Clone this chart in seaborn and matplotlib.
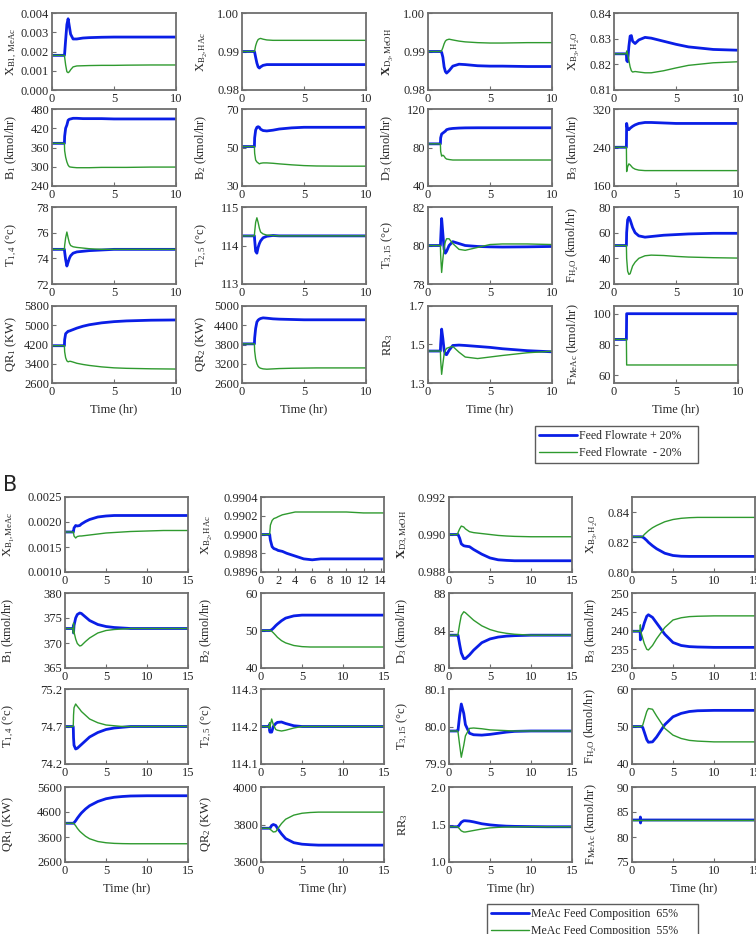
import matplotlib
matplotlib.use('Agg')
import matplotlib.pyplot as plt
import seaborn as sns
from matplotlib.lines import Line2D
from matplotlib.ticker import FormatStrFormatter, FixedLocator

# style
sns.set_theme(style='ticks')
plt.rcParams['font.family'] = ['Liberation Serif', 'DejaVu Serif']
plt.rcParams['mathtext.fontset'] = 'custom'
plt.rcParams['mathtext.rm'] = 'Liberation Serif'
plt.rcParams['mathtext.it'] = 'Liberation Serif:italic'
plt.rcParams['mathtext.bf'] = 'Liberation Serif:bold'

BLUE = '#0a1ee6'
GREEN = '#2f9a2f'
FRAME = '#6e6e6e'

# ---------------- panel A data (feed flowrate +/- 20%) ----------------
tA = [0, 1.0, 1.02, 1.1, 1.2, 1.3, 1.4, 1.5, 1.7, 2.0, 2.5, 3.0, 4.0, 5.0, 6.0, 8.0, 10.0]

a_xb1_up = [0.0018, 0.0018, 0.0019, 0.0026, 0.0034, 0.0037, 0.0033, 0.0029, 0.00265, 0.00265, 0.0027, 0.00272, 0.00274, 0.00275, 0.00275, 0.00275, 0.00275]
a_xb1_dn = [0.0018, 0.0018, 0.0017, 0.0013, 0.00095, 0.0009, 0.00095, 0.00105, 0.0012, 0.00125, 0.00126, 0.00127, 0.00128, 0.00128, 0.00129, 0.0013, 0.0013]
a_xb2_up = [0.990, 0.990, 0.9898, 0.9885, 0.9870, 0.9860, 0.9857, 0.9860, 0.9864, 0.9866, 0.9866, 0.9866, 0.9866, 0.9866, 0.9866, 0.9866, 0.9866]
a_xb2_dn = [0.990, 0.990, 0.9902, 0.9915, 0.9925, 0.9931, 0.9933, 0.9934, 0.9932, 0.9930, 0.9929, 0.9929, 0.9929, 0.9929, 0.9929, 0.9929, 0.9929]
a_xd3_up = [0.990, 0.990, 0.990, 0.9898, 0.9885, 0.9860, 0.9848, 0.9844, 0.9850, 0.9862, 0.9867, 0.9866, 0.9863, 0.9862, 0.9862, 0.9861, 0.9861]
a_xd3_dn = [0.990, 0.990, 0.990, 0.9902, 0.9910, 0.9920, 0.9927, 0.9930, 0.9932, 0.9930, 0.9927, 0.9925, 0.9923, 0.9922, 0.9922, 0.9923, 0.9923]
a_xb3_up = [0.8241, 0.8241, 0.8215, 0.8210, 0.8270, 0.8310, 0.8312, 0.8290, 0.8281, 0.8295, 0.8305, 0.8302, 0.8290, 0.8278, 0.8268, 0.8258, 0.8255]
a_xb3_dn = [0.8241, 0.8241, 0.8252, 0.8240, 0.8215, 0.8190, 0.8175, 0.8170, 0.8172, 0.8170, 0.8167, 0.8167, 0.8175, 0.8186, 0.8196, 0.8206, 0.8210]

a_b1_up = [373, 373, 395, 420, 430, 445, 448, 449, 451, 451, 450, 450, 450, 449, 449, 449, 449]
a_b1_dn = [373, 373, 350, 330, 315, 305, 300, 299, 298, 297, 297, 297, 298, 298, 298, 299, 299]
a_b2_up = [50.5, 50.5, 55, 59, 60.5, 60.8, 60.5, 59.5, 58.8, 58.6, 59.0, 59.6, 60.2, 60.5, 60.5, 60.5, 60.5]
a_b2_dn = [50.5, 50.5, 47, 43.5, 42.5, 42, 41.5, 41.8, 42, 42, 41.8, 41.5, 41, 40.6, 40.4, 40.3, 40.3]
a_d3_up = [83.8, 83.8, 90, 94, 95, 96, 97, 98.5, 99.3, 99.8, 100.2, 100.4, 100.5, 100.5, 100.5, 100.5, 100.5]
a_d3_dn = [83.8, 83.8, 76, 71, 72, 71, 69, 68, 67.5, 67, 67, 67, 67, 67, 67, 67, 67]
a_b3_up = [240.5, 240.5, 290, 278, 277, 280, 282, 284, 287, 290, 292, 292, 291, 290, 290, 290, 290]
a_b3_dn = [240.5, 240.5, 190, 200, 206, 204, 201, 198, 195, 193, 192, 192, 192, 192, 192, 192, 192]

a_t14_up = [74.7, 74.7, 74.5, 73.9, 73.4, 73.7, 74.0, 74.2, 74.4, 74.5, 74.55, 74.6, 74.65, 74.7, 74.7, 74.7, 74.7]
a_t14_dn = [74.7, 74.7, 75.0, 75.6, 76.05, 75.6, 75.2, 75.0, 74.9, 74.85, 74.8, 74.75, 74.7, 74.7, 74.7, 74.7, 74.7]
a_t25_up = [114.25, 114.25, 114.15, 113.85, 113.8, 113.95, 114.05, 114.12, 114.2, 114.24, 114.26, 114.25, 114.25, 114.25, 114.25, 114.25, 114.25]
a_t25_dn = [114.25, 114.25, 114.35, 114.6, 114.72, 114.6, 114.45, 114.35, 114.3, 114.27, 114.26, 114.25, 114.25, 114.25, 114.25, 114.25, 114.25]
a_t315_up = [80.0, 80.0, 80.3, 81.4, 80.6, 79.8, 79.6, 79.7, 80.0, 80.2, 80.1, 80.0, 79.95, 79.93, 79.92, 79.93, 79.95]
a_t315_dn = [80.0, 80.0, 79.5, 78.6, 79.3, 79.9, 80.2, 80.35, 80.35, 80.1, 79.8, 79.75, 79.9, 80.05, 80.08, 80.08, 80.05]
a_fh2o_up = [50, 50, 60, 70, 72, 70, 67, 64, 60, 57.5, 56.5, 57, 58, 58.5, 59, 59.5, 59.5]
a_fh2o_dn = [50, 50, 40, 30, 27.5, 28, 31, 34, 37, 40, 42, 42.5, 42.2, 41.5, 41, 40.5, 40.2]

a_qr1_up = [4150, 4150, 4400, 4650, 4700, 4750, 4760, 4780, 4820, 4880, 4960, 5020, 5100, 5150, 5180, 5210, 5220]
a_qr1_dn = [4150, 4150, 3900, 3650, 3520, 3480, 3500, 3500, 3470, 3420, 3370, 3330, 3270, 3230, 3210, 3190, 3180]
a_qr2_up = [3820, 3820, 4000, 4300, 4500, 4560, 4590, 4610, 4630, 4620, 4600, 4590, 4580, 4570, 4570, 4570, 4570]
a_qr2_dn = [3820, 3820, 3600, 3350, 3200, 3120, 3080, 3060, 3040, 3030, 3040, 3050, 3060, 3065, 3070, 3070, 3070]
a_rr3_up = [1.466, 1.466, 1.50, 1.58, 1.53, 1.47, 1.45, 1.447, 1.47, 1.495, 1.497, 1.495, 1.49, 1.485, 1.478, 1.468, 1.462]
a_rr3_dn = [1.466, 1.466, 1.42, 1.345, 1.40, 1.45, 1.47, 1.48, 1.485, 1.49, 1.46, 1.435, 1.427, 1.435, 1.443, 1.457, 1.465]
a_fmeac_up = [83.3, 83.3, 100, 100, 100, 100, 100, 100, 100, 100, 100, 100, 100, 100, 100, 100, 100]
a_fmeac_dn = [83.3, 83.3, 66.7, 66.7, 66.7, 66.7, 66.7, 66.7, 66.7, 66.7, 66.7, 66.7, 66.7, 66.7, 66.7, 66.7, 66.7]

# ---------------- panel B data (MeAc feed composition 65% / 55%) ----------------
tB = [0, 1.0, 1.02, 1.04, 1.1, 1.3, 1.5, 1.8, 2.0, 2.5, 3.0, 4.0, 5.0, 6.0, 7.0, 8.0, 10.0, 12.0, 15.0]

b_xb1_up = [0.0018, 0.0018, 0.0018, 0.00182, 0.00188, 0.00193, 0.00192, 0.00193, 0.00196, 0.00201, 0.00205, 0.0021, 0.00212, 0.00213, 0.00213, 0.00213, 0.00213, 0.00213, 0.00213]
b_xb1_dn = [0.0018, 0.0018, 0.0018, 0.00178, 0.00172, 0.00168, 0.00171, 0.00172, 0.00172, 0.00173, 0.00174, 0.00176, 0.00178, 0.00179, 0.0018, 0.00181, 0.00182, 0.00183, 0.00183]
b_xb2_up = [0.99, 0.99, 0.99, 0.98998, 0.98994, 0.98987, 0.98985, 0.98984, 0.98983, 0.98982, 0.9898, 0.98977, 0.98974, 0.98973, 0.98974, 0.98974, 0.98974, 0.98974, 0.98974]
b_xb2_dn = [0.99, 0.99, 0.99001, 0.99003, 0.9901, 0.99015, 0.99017, 0.99018, 0.99019, 0.99021, 0.99022, 0.99024, 0.99024, 0.99024, 0.99024, 0.99024, 0.99024, 0.99023, 0.99023]
b_xd3_up = [0.99, 0.99, 0.99, 0.99, 0.99, 0.9898, 0.9895, 0.9894, 0.98938, 0.98935, 0.9892, 0.98895, 0.98875, 0.98865, 0.98862, 0.9886, 0.9886, 0.9886, 0.9886]
b_xd3_dn = [0.99, 0.99, 0.99, 0.99, 0.9901, 0.9903, 0.99045, 0.9904, 0.9903, 0.99015, 0.9901, 0.99005, 0.99, 0.98995, 0.98992, 0.9899, 0.98988, 0.98988, 0.98988]
b_xb3_up = [0.8235, 0.8235, 0.8235, 0.8235, 0.8235, 0.8233, 0.8225, 0.821, 0.8198, 0.8175, 0.8155, 0.8125, 0.811, 0.8105, 0.8104, 0.8104, 0.8104, 0.8104, 0.8104]
b_xb3_dn = [0.8235, 0.8235, 0.8235, 0.8235, 0.8235, 0.8237, 0.825, 0.8265, 0.8275, 0.8295, 0.831, 0.8335, 0.835, 0.8358, 0.8362, 0.8364, 0.8364, 0.8364, 0.8364]

b_b1_up = [372.9, 372.9, 373.5, 372.0, 373.5, 375.0, 375.7, 376.0, 375.9, 375.2, 374.5, 373.7, 373.3, 373.1, 373.0, 372.9, 372.9, 372.9, 372.9]
b_b1_dn = [372.9, 372.9, 372.0, 374.0, 372.2, 370.8, 369.9, 369.4, 369.5, 370.3, 371.0, 372.0, 372.5, 372.7, 372.8, 372.9, 372.9, 372.9, 372.9]
b_b2_up = [50, 50, 50, 50, 50, 50.2, 50.6, 51.3, 51.7, 52.6, 53.3, 53.9, 54.1, 54.1, 54.1, 54.1, 54.1, 54.1, 54.1]
b_b2_dn = [50, 50, 50, 50, 50, 49.8, 49.4, 48.7, 48.2, 47.3, 46.7, 46.0, 45.7, 45.6, 45.6, 45.6, 45.6, 45.6, 45.6]
b_d3_up = [83.5, 83.5, 83.5, 83.5, 83.5, 82.5, 81.6, 81.0, 81.0, 81.4, 81.9, 82.7, 83.1, 83.3, 83.4, 83.45, 83.5, 83.5, 83.5]
b_d3_dn = [83.5, 83.5, 83.5, 83.5, 83.6, 84.7, 85.6, 86.0, 85.9, 85.5, 85.1, 84.5, 84.1, 83.85, 83.7, 83.6, 83.5, 83.5, 83.5]
b_b3_up = [239.8, 239.8, 237.5, 239.8, 239.8, 240.5, 242.0, 243.8, 244.2, 243.5, 242.0, 239.0, 236.8, 236.0, 235.7, 235.6, 235.5, 235.5, 235.5]
b_b3_dn = [239.8, 239.8, 241.5, 239.8, 239.5, 238.0, 236.5, 235.0, 234.8, 236.0, 237.8, 240.8, 242.8, 243.4, 243.7, 243.8, 243.9, 243.9, 243.9]

b_t14_up = [74.7, 74.7, 74.65, 74.55, 74.45, 74.4, 74.41, 74.44, 74.46, 74.51, 74.56, 74.62, 74.66, 74.68, 74.69, 74.7, 74.7, 74.7, 74.7]
b_t14_dn = [74.7, 74.7, 74.75, 74.85, 74.95, 75.0, 74.97, 74.93, 74.9, 74.85, 74.8, 74.75, 74.72, 74.71, 74.7, 74.7, 74.7, 74.7, 74.7]
b_t25_up = [114.2, 114.2, 114.205, 114.19, 114.185, 114.185, 114.2, 114.208, 114.211, 114.212, 114.208, 114.202, 114.2, 114.2, 114.2, 114.2, 114.2, 114.2, 114.2]
b_t25_dn = [114.2, 114.2, 114.195, 114.21, 114.2, 114.22, 114.205, 114.192, 114.19, 114.188, 114.19, 114.196, 114.2, 114.2, 114.2, 114.2, 114.2, 114.2, 114.2]
b_t315_up = [79.988, 79.988, 79.988, 79.988, 79.99, 80.03, 80.06, 80.035, 80.005, 79.982, 79.978, 79.977, 79.979, 79.982, 79.985, 79.987, 79.988, 79.988, 79.988]
b_t315_dn = [79.988, 79.988, 79.988, 79.988, 79.985, 79.95, 79.918, 79.95, 79.975, 79.995, 79.996, 79.994, 79.991, 79.99, 79.989, 79.988, 79.988, 79.988, 79.988]
b_fh2o_up = [50, 50, 50, 50, 50, 49.8, 48.5, 46.5, 45.8, 45.9, 47.2, 50.5, 52.6, 53.5, 54.0, 54.2, 54.3, 54.3, 54.3]
b_fh2o_dn = [50, 50, 50, 50, 50, 50.3, 51.8, 54.0, 54.8, 54.6, 52.8, 49.5, 47.7, 46.8, 46.3, 46.1, 45.9, 45.9, 45.9]

b_qr1_up = [4150, 4150, 4150, 4150, 4170, 4250, 4350, 4480, 4560, 4720, 4850, 5020, 5130, 5190, 5220, 5240, 5250, 5250, 5250]
b_qr1_dn = [4150, 4150, 4150, 4150, 4130, 4050, 3950, 3830, 3770, 3630, 3530, 3420, 3370, 3345, 3335, 3330, 3330, 3330, 3330]
b_qr2_up = [3780, 3780, 3780, 3780, 3780, 3795, 3800, 3795, 3780, 3750, 3725, 3703, 3695, 3692, 3690, 3690, 3690, 3690, 3690]
b_qr2_dn = [3780, 3780, 3780, 3780, 3775, 3768, 3760, 3762, 3775, 3805, 3828, 3850, 3860, 3864, 3866, 3866, 3866, 3866, 3866]
b_rr3_up = [1.47, 1.47, 1.47, 1.47, 1.47, 1.50, 1.53, 1.55, 1.55, 1.545, 1.535, 1.51, 1.495, 1.485, 1.478, 1.475, 1.472, 1.47, 1.47]
b_rr3_dn = [1.47, 1.47, 1.47, 1.47, 1.465, 1.44, 1.415, 1.40, 1.40, 1.41, 1.42, 1.44, 1.455, 1.462, 1.466, 1.468, 1.47, 1.47, 1.47]
b_fmeac_up = [83.4, 83.4, 84.0, 82.8, 83.4, 83.4, 83.4, 83.4, 83.4, 83.4, 83.4, 83.4, 83.4, 83.4, 83.4, 83.4, 83.4, 83.4, 83.4]
b_fmeac_dn = [83.4] * len(tB)

# y labels
lab_a = [r'X$_{\mathrm{B1,\ MeAc}}$', r'X$_{\mathrm{B_2,HAc}}$', r'$\mathbf{X}_{\mathrm{D_3,MeOH}}$', r'X$_{\mathrm{B_3,H_2O}}$',
         r'B$_1$ (kmol/hr)', r'B$_2$ (kmol/hr)', r'D$_3$ (kmol/hr)', r'B$_3$ (kmol/hr)',
         r'T$_{1,4}$ (°c)', r'T$_{2,5}$ (°c)', r'T$_{3,15}$ (°c)', r'F$_{\mathrm{H_2O}}$ (kmol/hr)',
         r'QR$_1$ (KW)', r'QR$_2$ (KW)', r'RR$_3$', r'F$_{\mathrm{MeAc}}$ (kmol/hr)']
lab_b = [r'X$_{\mathrm{B_1,MeAc}}$', r'X$_{\mathrm{B_2,HAc}}$', r'$\mathbf{X}_{\mathrm{D3,MeOH}}$', r'X$_{\mathrm{B_3,H_2O}}$'] + lab_a[4:]

# (up, down, ylim, yticks, tick format)
panel_a = [
    (a_xb1_up, a_xb1_dn, (0, 0.004), [0, 0.001, 0.002, 0.003, 0.004], '%.3f'),
    (a_xb2_up, a_xb2_dn, (0.98, 1.0), [0.98, 0.99, 1.0], '%.2f'),
    (a_xd3_up, a_xd3_dn, (0.98, 1.0), [0.98, 0.99, 1.0], '%.2f'),
    (a_xb3_up, a_xb3_dn, (0.81, 0.84), [0.81, 0.82, 0.83, 0.84], '%.2f'),
    (a_b1_up, a_b1_dn, (240, 480), [240, 300, 360, 420, 480], '%d'),
    (a_b2_up, a_b2_dn, (30, 70), [30, 50, 70], '%d'),
    (a_d3_up, a_d3_dn, (40, 120), [40, 80, 120], '%d'),
    (a_b3_up, a_b3_dn, (160, 320), [160, 240, 320], '%d'),
    (a_t14_up, a_t14_dn, (72, 78), [72, 74, 76, 78], '%d'),
    (a_t25_up, a_t25_dn, (113, 115), [113, 114, 115], '%d'),
    (a_t315_up, a_t315_dn, (78, 82), [78, 80, 82], '%d'),
    (a_fh2o_up, a_fh2o_dn, (20, 80), [20, 40, 60, 80], '%d'),
    (a_qr1_up, a_qr1_dn, (2600, 5800), [2600, 3400, 4200, 5000, 5800], '%d'),
    (a_qr2_up, a_qr2_dn, (2600, 5000), [2600, 3200, 3800, 4400, 5000], '%d'),
    (a_rr3_up, a_rr3_dn, (1.3, 1.7), [1.3, 1.5, 1.7], '%.1f'),
    (a_fmeac_up, a_fmeac_dn, (55, 105), [60, 80, 100], '%d'),
]
panel_b = [
    (b_xb1_up, b_xb1_dn, (0.001, 0.0025), [0.001, 0.0015, 0.002, 0.0025], '%.4f'),
    (b_xb2_up, b_xb2_dn, (0.9896, 0.9904), [0.9896, 0.9898, 0.99, 0.9902, 0.9904], '%.4f'),
    (b_xd3_up, b_xd3_dn, (0.988, 0.992), [0.988, 0.99, 0.992], '%.3f'),
    (b_xb3_up, b_xb3_dn, (0.80, 0.85), [0.80, 0.82, 0.84], '%.2f'),
    (b_b1_up, b_b1_dn, (365, 380), [365, 370, 375, 380], '%d'),
    (b_b2_up, b_b2_dn, (40, 60), [40, 50, 60], '%d'),
    (b_d3_up, b_d3_dn, (80, 88), [80, 84, 88], '%d'),
    (b_b3_up, b_b3_dn, (230, 250), [230, 235, 240, 245, 250], '%d'),
    (b_t14_up, b_t14_dn, (74.2, 75.2), [74.2, 74.7, 75.2], '%.1f'),
    (b_t25_up, b_t25_dn, (114.1, 114.3), [114.1, 114.2, 114.3], '%.1f'),
    (b_t315_up, b_t315_dn, (79.9, 80.1), [79.9, 80.0, 80.1], '%.1f'),
    (b_fh2o_up, b_fh2o_dn, (40, 60), [40, 50, 60], '%d'),
    (b_qr1_up, b_qr1_dn, (2600, 5600), [2600, 3600, 4600, 5600], '%d'),
    (b_qr2_up, b_qr2_dn, (3600, 4000), [3600, 3800, 4000], '%d'),
    (b_rr3_up, b_rr3_dn, (1.0, 2.0), [1.0, 1.5, 2.0], '%.1f'),
    (b_fmeac_up, b_fmeac_dn, (75, 90), [75, 80, 85, 90], '%d'),
]

W, H = 756, 934
fig = plt.figure(figsize=(W / 100, H / 100), dpi=100)


def px_axes(x, y, w, h):
    return fig.add_axes([x / W, 1 - (y + h) / H, w / W, h / H])


def draw(ax, t, up, dn, ylim, yticks, fmt, ylabel, xmax, xticks, labx):
    sns.lineplot(x=t, y=up, ax=ax, color=BLUE, linewidth=2.0, sort=False, estimator=None, legend=False)
    sns.lineplot(x=t, y=dn, ax=ax, color=GREEN, linewidth=1.0, sort=False, estimator=None, legend=False)
    ax.set_xlim(0, xmax)
    ax.set_ylim(*ylim)
    ax.yaxis.set_major_locator(FixedLocator(yticks))
    ax.yaxis.set_major_formatter(FormatStrFormatter(fmt))
    ax.set_xticks(xticks)
    ax.tick_params(labelsize=9, direction='in', length=3, width=0.8, color=FRAME, pad=2)
    for s in ax.spines.values():
        s.set_color(FRAME)
        s.set_linewidth(1.3)
        s.set_visible(True)
    ax.set_ylabel(ylabel, fontsize=9)
    ax.yaxis.set_label_coords(labx, 0.5)
    ax.set_xlabel('')


# panel A
colsA = [52, 242, 428, 614]
rowsA = [13, 109, 207, 306]
for i, (up, dn, ylim, yt, fmt) in enumerate(panel_a):
    r, c = divmod(i, 4)
    ax = px_axes(colsA[c], rowsA[r], 124, 77)
    draw(ax, tA, up, dn, ylim, yt, fmt, lab_a[i], 10, [0, 5, 10], -0.27)
    if r == 3:
        ax.set_xlabel('Time (hr)', fontsize=9, labelpad=4)

# panel B
colsB = [65, 261, 449, 632]
rowsB = [497, 593, 689, 787]
labxB = [-0.40, -0.38, -0.32, -0.27]
for i, (up, dn, ylim, yt, fmt) in enumerate(panel_b):
    r, c = divmod(i, 4)
    ax = px_axes(colsB[c], rowsB[r], 123, 75)
    if i == 1:
        draw(ax, tB, up, dn, ylim, yt, fmt, lab_b[i], 14.4, [0, 2, 4, 6, 8, 10, 12, 14], labxB[c])
    else:
        draw(ax, tB, up, dn, ylim, yt, fmt, lab_b[i], 15, [0, 5, 10, 15], labxB[c])
    if r == 3:
        ax.set_xlabel('Time (hr)', fontsize=9, labelpad=4)

# panel letters
fig.text(3 / W, 1 - 2 / H, 'A', fontsize=15, family='DejaVu Sans', va='bottom', ha='left')
fig.text(3 / W, 1 - 485 / H, 'B', fontsize=15, family='DejaVu Sans', va='center', ha='left')

# legends (trailing spaces give the wide right margin of the original boxes)
h_a = [Line2D([], [], color=BLUE, lw=2.0), Line2D([], [], color=GREEN, lw=1.0)]
leg_a = fig.legend(h_a, ['Feed Flowrate + 20%    ', 'Feed Flowrate  - 20%    '],
                   loc='upper left', bbox_to_anchor=(535 / W, 1 - 426 / H), fontsize=8.5,
                   frameon=True, fancybox=False, handlelength=3.2, handletextpad=0.2,
                   borderpad=0.35, labelspacing=0.4, borderaxespad=0)
leg_a.get_frame().set_edgecolor('#333333')
leg_a.get_frame().set_linewidth(1.0)

leg_b = fig.legend(h_a, ['MeAc Feed Composition  65%     ', 'MeAc Feed Composition  55%     '],
                   loc='upper left', bbox_to_anchor=(487 / W, 1 - 904 / H), fontsize=8.5,
                   frameon=True, fancybox=False, handlelength=3.2, handletextpad=0.2,
                   borderpad=0.35, labelspacing=0.4, borderaxespad=0)
leg_b.get_frame().set_edgecolor('#333333')
leg_b.get_frame().set_linewidth(1.0)

fig.savefig('out.png', dpi=100)
